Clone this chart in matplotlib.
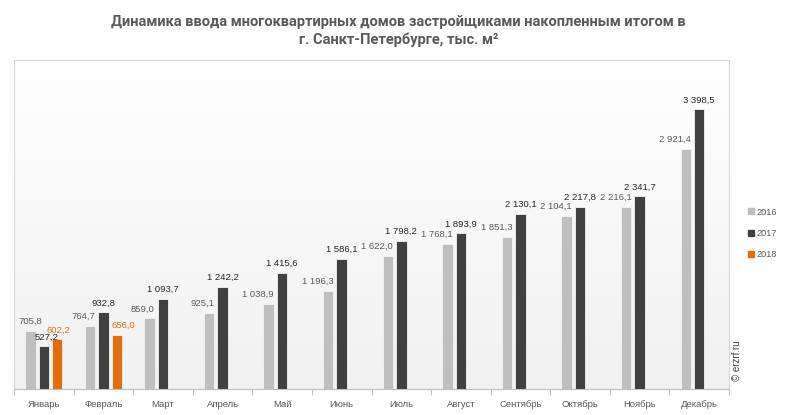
import matplotlib
matplotlib.use("Agg")
import matplotlib.pyplot as plt
import numpy as np
from matplotlib.lines import Line2D
from matplotlib.colors import LinearSegmentedColormap

months = ["Январь", "Февраль", "Март", "Апрель", "Май", "Июнь", "Июль",
          "Август", "Сентябрь", "Октябрь", "Ноябрь", "Декабрь"]
v2016 = [705.8, 764.7, 859.0, 925.1, 1038.9, 1196.3, 1622.0, 1768.1,
         1851.3, 2104.1, 2216.1, 2921.4]
v2017 = [527.2, 932.8, 1093.7, 1242.2, 1415.6, 1586.1, 1798.2, 1893.9,
         2130.1, 2217.8, 2341.7, 3398.5]
v2018 = [602.2, 656.0]
years = ["2016", "2017", "2018"]

c16, c17, c18 = "#bfbfbf", "#404040", "#e46c0a"
t16, t17 = "#595959", "#262626"

def fmt(v):
    s = f"{v:,.1f}"
    return s.replace(",", " ").replace(".", ",")

plt.rcParams['font.family'] = ['Liberation Sans', 'DejaVu Sans']

fig = plt.figure(figsize=(7.92, 4.15), dpi=100)
ax = fig.add_axes([14/792, 26/415, (729-14)/792, (389-60)/415])

# gradient background: white at top, light gray at bottom
grad = np.linspace(0.0, 1.0, 256).reshape(-1, 1)
cmap = LinearSegmentedColormap.from_list("g", ["#f1f1f1", "#ffffff"])
ax.imshow(grad, extent=[0, 1, 0, 1], transform=ax.transAxes, cmap=cmap,
          aspect='auto', zorder=0, origin='lower')

x = np.arange(len(months))
w = 0.175
off = 0.226
ax.bar(x - off, v2016, w, color=c16, edgecolor="#f4f4f4", lw=0.6, zorder=2)
ax.bar(x, v2017, w, color=c17, edgecolor="#f4f4f4", lw=0.6, zorder=2)
ax.bar(x[:len(v2018)] + off, v2018, w, color=c18, edgecolor="#f4f4f4", lw=0.6, zorder=2)

fs = 6.8
pad = 3.5
for i, v in enumerate(v2016):
    if i == 0:
        ax.annotate(fmt(v), (x[i] - off, v), xytext=(0, pad), textcoords="offset points",
                    ha='center', va='bottom', fontsize=fs, color=t16, zorder=3)
    else:
        ax.annotate(fmt(v), (x[i] - off + w/2, v), xytext=(0, pad), textcoords="offset points",
                    ha='right', va='bottom', fontsize=fs, color=t16, zorder=3)
for i, v in enumerate(v2017):
    dx = 2 if i == 0 else 0
    ax.annotate(fmt(v), (x[i], v), xytext=(dx, pad - (1 if i == 0 else 0)), textcoords="offset points",
                ha='center', va='bottom', fontsize=fs, color=t17, zorder=3)
for i, v in enumerate(v2018):
    if i == 0:
        ax.annotate(fmt(v), (x[i] + off, v), xytext=(1, pad), textcoords="offset points",
                    ha='center', va='bottom', fontsize=fs, color=c18, zorder=3)
    else:
        ax.annotate(fmt(v), (x[i] + off - w/2, v), xytext=(0, pad), textcoords="offset points",
                    ha='left', va='bottom', fontsize=fs, color=c18, zorder=3)

ax.set_xlim(-0.5, len(months) - 0.5)
ax.set_ylim(0, 4000)
ax.set_yticks([])
ax.set_xticks(x)
ax.set_xticklabels(months, fontsize=6.8, color="#595959")
ax.tick_params(axis='x', which='major', length=0, pad=8)
ax.set_xticks(np.arange(-0.5, len(months)), minor=True)
ax.tick_params(axis='x', which='minor', length=4, color="#bfbfbf", width=0.8, direction='out')

for s in ['top', 'left', 'right']:
    ax.spines[s].set_color("#d9d9d9")
    ax.spines[s].set_linewidth(0.8)
ax.spines['bottom'].set_color("#bfbfbf")
ax.spines['bottom'].set_linewidth(0.8)

# legend
handles = [Line2D([], [], marker='s', ls='', color=c, markersize=4.5) for c in (c16, c17, c18)]
leg = fig.legend(handles, years, loc='upper left', bbox_to_anchor=(744/792, 1 - 203/415),
                 frameon=False, fontsize=6.6, handlelength=0.6, handletextpad=0.3,
                 labelspacing=1.35, borderpad=0)
for t in leg.get_texts():
    t.set_color("#595959")

fig.text(737/792, 1 - 361/415, "© erzrf.ru", rotation=90, ha='center', va='center',
         fontsize=7, color="#404040")

fig.text(0.503, 1 - 22/415, "Динамика ввода многоквартирных домов застройщиками накопленным итогом в",
         ha='center', va='center', fontsize=10.5, fontweight='bold', color="#595959",
         family=['Roboto', 'DejaVu Sans'])
fig.text(0.503, 1 - 40/415, "г. Санкт-Петербурге, тыс. м²",
         ha='center', va='center', fontsize=10.5, fontweight='bold', color="#595959",
         family=['Roboto', 'DejaVu Sans'])

fig.savefig("out.png", dpi=100)
